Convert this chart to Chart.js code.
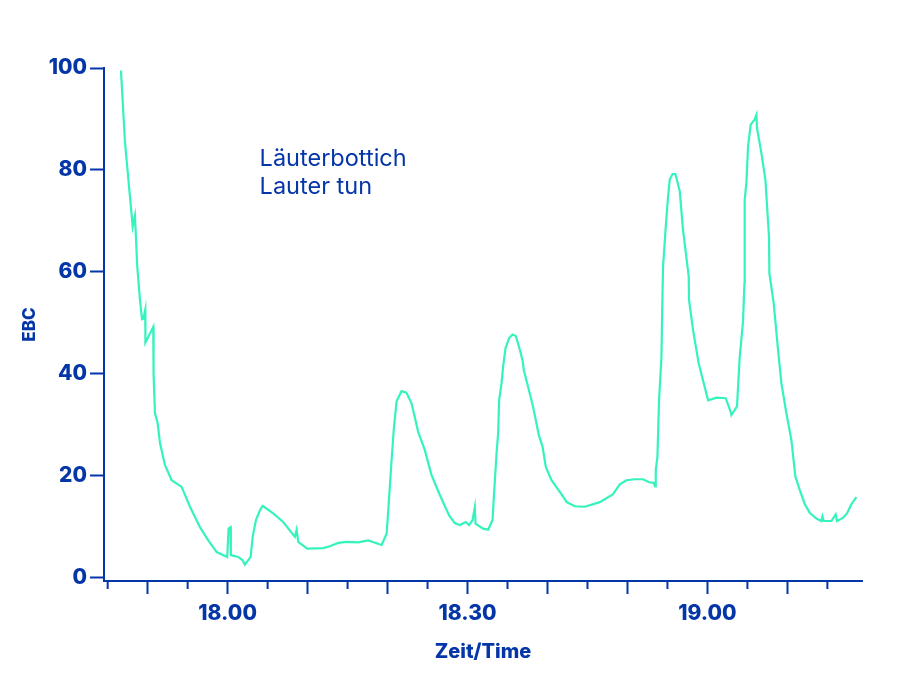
<!DOCTYPE html>
<html>
<head>
<meta charset="utf-8">
<title>Läuterbottich EBC</title>
<script src="https://cdn.jsdelivr.net/npm/chart.js@4"></script>
<style>
  html, body { margin: 0; padding: 0; background: #fff; }
  #chart { display: block; }
</style>
</head>
<body>
<canvas id="chart" width="908" height="687"></canvas>
<script>
// minutes after 17:00
const times = [
  46.66, 47.16, 48.13, 48.41, 48.7, 49.04, 49.29, 49.45, 49.7, 49.72,
  50.7, 50.74, 50.91, 51.25, 51.54, 52.16, 53.0, 54.25, 55.29, 56.54,
  57.58, 58.63, 59.95, 60.12, 60.37, 60.4, 61.33, 61.88, 62.16, 62.88,
  63.13, 63.54, 64.04, 64.38, 65.7, 66.95, 68.41, 68.63, 68.83, 69.95,
  71.95, 72.79, 73.83, 74.88, 76.33, 77.58, 79.25, 79.88, 80.08, 80.5,
  80.79, 81.13, 81.75, 82.35, 83.0, 83.83, 84.66, 85.5, 86.54, 87.7,
  88.41, 89.04, 89.79, 90.2, 90.63, 90.91, 91.0, 91.95, 92.58, 93.13,
  93.29, 93.63, 93.83, 93.95, 94.25, 94.45, 94.75, 95.2, 95.63, 96.04,
  96.54, 96.91, 97.04, 97.58, 98.2, 98.91, 99.38, 99.79, 100.5, 101.54,
  102.41, 103.41, 104.66, 106.54, 108.16, 109.04, 109.88, 110.91, 111.95, 112.7,
  113.29, 113.45, 113.54, 113.75, 113.95, 114.25, 114.33, 114.45, 114.79, 115.08,
  115.29, 115.63, 116.0, 116.54, 116.95, 117.66, 117.7, 118.2, 118.91, 119.66,
  120.08, 121.13, 122.29, 122.91, 123.0, 123.7, 123.83, 124.04, 124.45, 124.63,
  124.66, 124.88, 125.08, 125.41, 125.91, 126.13, 126.2, 126.75, 127.25, 127.7,
  127.75, 128.29, 128.83, 129.25, 129.88, 130.5, 131.0, 131.54, 132.16, 132.79,
  133.63, 134.25, 134.38, 134.54, 135.5, 136.04, 136.2, 136.95, 137.45, 138.0,
  138.63
];
const ebc = [
  99.5, 85.5, 68.9, 71.0, 61.0, 54.5, 50.7, 50.8, 52.6, 46.1,
  49.2, 40.0, 32.3, 30.3, 26.4, 22.1, 19.1, 17.8, 13.9, 9.9,
  7.3, 5.0, 4.05, 9.6, 9.9, 4.4, 4.05, 3.4, 2.55, 4.05,
  8.0, 11.3, 13.2, 14.1, 12.6, 10.9, 8.0, 9.4, 7.0, 5.7,
  5.8, 6.15, 6.8, 7.0, 6.9, 7.3, 6.4, 8.6, 13.0, 23.0,
  29.3, 34.6, 36.6, 36.3, 34.2, 28.6, 25.0, 20.1, 16.2, 12.2,
  10.7, 10.3, 10.9, 10.3, 11.3, 13.8, 10.6, 9.6, 9.4, 11.3,
  15.8, 24.4, 28.3, 34.8, 38.1, 41.4, 45.0, 47.0, 47.7, 47.4,
  44.7, 42.4, 40.7, 37.4, 33.5, 28.0, 25.7, 21.7, 19.1, 16.8,
  14.8, 14.0, 13.9, 14.8, 16.3, 18.3, 19.1, 19.3, 19.3, 18.7,
  18.6, 17.9, 21.1, 23.8, 34.8, 43.3, 51.2, 61.0, 68.9, 74.8,
  78.1, 79.2, 79.2, 75.8, 68.2, 59.1, 54.5, 48.6, 42.0, 37.4,
  34.8, 35.3, 35.2, 32.5, 31.9, 33.6, 37.4, 43.3, 50.2, 57.8,
  74.1, 77.7, 84.6, 88.9, 89.9, 90.8, 88.2, 83.3, 78.1, 66.9,
  59.7, 53.8, 44.7, 38.1, 32.2, 27.0, 19.8, 17.2, 14.5, 12.7,
  11.6, 11.1, 12.0, 11.1, 11.1, 12.4, 11.1, 11.7, 12.6, 14.4,
  15.8
];

const yTicks = [0, 20, 40, 60, 80, 100];
const xTicks = [45, 50, 55, 60, 65, 70, 75, 80, 85, 90, 95, 100, 105, 110, 115, 120, 125, 130, 135];
const xLabelAt = [60, 90, 120];
const xLabels = ['18.00', '18.30', '19.00'];
const noteLines = ['Läuterbottich', 'Lauter tun'];

const blue = '#0536a8';
const mint = '#35f3bc';

// short ticks at the 5 minute marks
const shortTicks = {
  id: 'shortTicks',
  afterDraw(chart) {
    const x = chart.scales.x;
    const ctx = chart.ctx;
    const bottom = chart.chartArea.bottom;
    ctx.save();
    ctx.strokeStyle = blue;
    ctx.lineWidth = 2;
    xTicks.filter(v => v % 10 !== 0).forEach(v => {
      const px = x.getPixelForValue(v);
      ctx.beginPath();
      ctx.moveTo(px, bottom);
      ctx.lineTo(px, bottom + 8);
      ctx.stroke();
    });
    ctx.restore();
  }
};

const note = {
  id: 'note',
  afterDraw(chart) {
    const ctx = chart.ctx;
    const x = chart.scales.x.getPixelForValue(64);
    ctx.save();
    ctx.font = '400 23.5px Inter';
    ctx.fillStyle = blue;
    ctx.textBaseline = 'middle';
    ctx.fillText(noteLines[0], x, chart.scales.y.getPixelForValue(82.2));
    ctx.fillText(noteLines[1], x, chart.scales.y.getPixelForValue(76.7));
    ctx.restore();
  }
};

new Chart(document.getElementById('chart'), {
  type: 'line',
  data: {
    datasets: [{
      data: times.map((t, i) => ({ x: t, y: ebc[i] })),
      borderColor: mint,
      borderWidth: 2.2,
      pointRadius: 0,
      tension: 0,
      fill: false
    }]
  },
  options: {
    responsive: false,
    animation: false,
    layout: { padding: { left: 0, top: 68, right: 46, bottom: 0 } },
    plugins: { legend: { display: false }, tooltip: { enabled: false } },
    scales: {
      x: {
        type: 'linear',
        min: 44.54,
        max: 139.33,
        afterBuildTicks: axis => { axis.ticks = xTicks.map(v => ({ value: v })); },
        afterFit: axis => { axis.height = 106; },
        border: { color: blue, width: 2 },
        grid: {
          drawOnChartArea: false,
          tickLength: 13,
          tickWidth: 2,
          tickColor: c => (c.tick && c.tick.value % 10 === 0) ? blue : 'rgba(0,0,0,0)'
        },
        ticks: {
          autoSkip: false,
          maxRotation: 0,
          padding: 7,
          color: blue,
          font: { family: 'Inter', size: 21, weight: '800' },
          callback: v => {
            const i = xLabelAt.indexOf(v);
            return i >= 0 ? xLabels[i] : '';
          }
        },
        title: {
          display: true,
          text: 'Zeit/Time',
          color: blue,
          font: { family: 'Inter', size: 20, weight: '800' },
          padding: { top: 0, bottom: 23 }
        }
      },
      y: {
        min: -0.67,
        max: 100,
        afterBuildTicks: axis => { axis.ticks = yTicks.map(v => ({ value: v })); },
        afterFit: axis => { axis.width = 104; },
        border: { color: blue, width: 2 },
        grid: {
          drawOnChartArea: false,
          tickLength: 14,
          tickWidth: 2,
          tickColor: blue
        },
        ticks: {
          padding: 3,
          color: blue,
          font: { family: 'Inter', size: 21, weight: '800' }
        },
        title: {
          display: true,
          text: 'EBC',
          color: blue,
          font: { family: 'Inter', size: 17, weight: '800' },
          padding: { top: 20, bottom: 0 }
        }
      }
    }
  },
  plugins: [shortTicks, note]
});
</script>
</body>
</html>
